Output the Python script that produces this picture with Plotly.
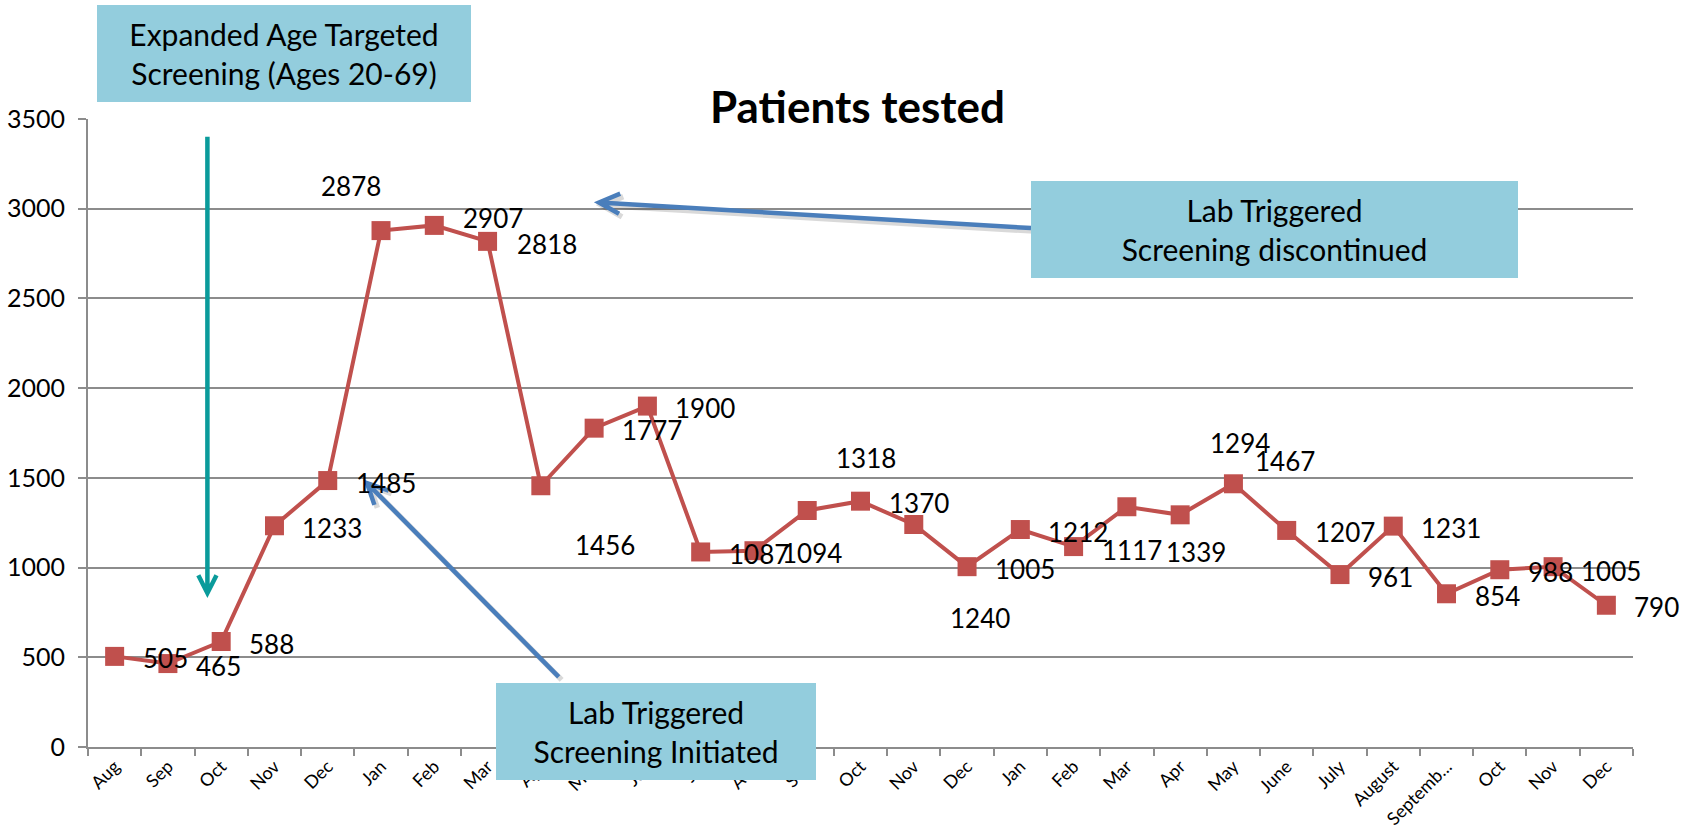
import math
import plotly.graph_objects as go

# ---------------- data ----------------
months = ["Aug", "Sep", "Oct", "Nov", "Dec", "Jan", "Feb", "Mar", "Apr", "May",
          "Jun", "Jul", "Aug", "Sep", "Oct", "Nov", "Dec", "Jan", "Feb", "Mar",
          "Apr", "May", "June", "July", "August", "Septemb...", "Oct", "Nov", "Dec"]
patients = [505, 465, 588, 1233, 1485, 2878, 2907, 2818, 1456, 1777,
            1900, 1087, 1094, 1318, 1370, 1240, 1005, 1212, 1117, 1339,
            1294, 1467, 1207, 961, 1231, 854, 988, 1005, 790]
y_ticks = [0, 500, 1000, 1500, 2000, 2500, 3000, 3500]

# label offsets (pixels: left edge dx, downward dy) as in the original slide
label_dx = [26] * len(patients)
label_dy = [2] * len(patients)
for i, (dx, dy) in {5: (-62, -45), 6: (27, -7), 7: (27, 3), 8: (32, 59),
                    13: (27, -53), 15: (34, 93), 19: (37, 45), 20: (28, -72),
                    21: (20, -23), 18: (26, 3), 27: (26, 4)}.items():
    label_dx[i] = dx
    label_dy[i] = dy

# ---------------- geometry ----------------
W, H = 1700, 829
L, R, T, B = 88, 1633, 119.3, 746.7
PW, PH = R - L, B - T


def px(x):
    return (x - L) / PW


def py(y):
    return (B - y) / PH


FONT = "Lato, Carlito, Calibri, 'Open Sans', sans-serif"
RED = "#C0504D"
GRID = "#8C8C8C"
BOX = "#93CDDD"
BLUE = "#4A7EBB"
TEAL = "#0A9B9B"

x_idx = list(range(len(patients)))

fig = go.Figure()
fig.add_trace(go.Scatter(
    x=x_idx, y=patients, mode="lines+markers",
    line=dict(color=RED, width=4),
    marker=dict(symbol="square", size=19, color=RED),
    hoverinfo="x+y", showlegend=False, cliponaxis=False,
))

annotations = []
for i, v in enumerate(patients):
    annotations.append(dict(
        x=i, y=v, xref="x", yref="y", text=str(v), showarrow=False,
        xanchor="left", yanchor="middle", xshift=label_dx[i], yshift=-label_dy[i],
        font=dict(family=FONT, size=26, color="#000000"),
    ))

# title
annotations.append(dict(
    x=px(857), y=py(106), xref="paper", yref="paper", text="<b>Patients tested</b>",
    showarrow=False, xanchor="center", yanchor="middle",
    font=dict(family=FONT, size=44, color="#000000"),
))


def box(cx, cy, w, h, text):
    return dict(
        x=px(cx), y=py(cy), xref="paper", yref="paper", text=text, showarrow=False,
        xanchor="center", yanchor="middle", width=w, height=h, bgcolor=BOX,
        borderpad=0, borderwidth=0, align="center", valign="middle",
        font=dict(family=FONT, size=30, color="#000000"),
    )


annotations.append(box(283.7, 53.4, 374, 97, "Expanded Age Targeted<br>Screening (Ages 20-69)"))
annotations.append(box(1274.5, 229.5, 487, 97, "Lab Triggered<br>Screening discontinued"))
annotations.append(box(655.8, 731, 320, 97, "Lab Triggered<br>Screening Initiated"))

shapes = []


def arrow(tail, tip, color, width, arm=22, ang=27, shadow=False):
    tx, ty = tail
    hx, hy = tip
    dxv, dyv = tx - hx, ty - hy
    n = math.hypot(dxv, dyv)
    ux, uy = dxv / n, dyv / n
    pts = []
    for s in (1, -1):
        a = math.radians(ang) * s
        rx = ux * math.cos(a) - uy * math.sin(a)
        ry = ux * math.sin(a) + uy * math.cos(a)
        pts.append((hx + arm * rx, hy + arm * ry))

    def path(o):
        return (f"M {px(tx+o)},{py(ty+o)} L {px(hx+o)},{py(hy+o)} "
                f"M {px(pts[0][0]+o)},{py(pts[0][1]+o)} L {px(hx+o)},{py(hy+o)} "
                f"L {px(pts[1][0]+o)},{py(pts[1][1]+o)}")
    out = []
    if shadow:
        out.append(dict(type="path", xref="paper", yref="paper", path=path(3),
                        line=dict(color="rgba(0,0,0,0.15)", width=width + 1), layer="above"))
    out.append(dict(type="path", xref="paper", yref="paper", path=path(0),
                    line=dict(color=color, width=width), layer="above"))
    return out


shapes += arrow((207.4, 137), (207.4, 593), TEAL, 4.5, arm=20, ang=27)
shapes += arrow((1031, 228.3), (599, 202.7), BLUE, 4.5, arm=23, ang=26, shadow=True)
shapes += arrow((558.7, 676.7), (367, 483), BLUE, 4.5, arm=23, ang=26, shadow=True)

fig.update_layout(
    width=W, height=H,
    margin=dict(l=L, r=W - R, t=T, b=H - B, pad=0, autoexpand=False),
    paper_bgcolor="white", plot_bgcolor="white",
    font=dict(family=FONT, color="#000000"),
    showlegend=False,
    annotations=annotations,
    shapes=shapes,
    xaxis=dict(
        range=[-0.5, len(patients) - 0.5],
        tickmode="array", tickvals=x_idx, ticktext=months,
        tickangle=-45, ticks="", showgrid=False, automargin=False,
        showline=True, linecolor=GRID, linewidth=2,
        tickfont=dict(family=FONT, size=18, color="#000000"),
        minor=dict(tickmode="array", tickvals=[i - 0.5 for i in range(len(patients) + 1)],
                   ticks="outside", ticklen=7, tickwidth=2, tickcolor=GRID, showgrid=False),
        zeroline=False, fixedrange=True,
    ),
    yaxis=dict(
        range=[0, 3500], tickmode="array", tickvals=y_ticks,
        ticks="outside", ticklen=8, tickwidth=2, tickcolor=GRID,
        ticklabelstandoff=8, automargin=False,
        showgrid=True, gridcolor=GRID, gridwidth=1.6,
        showline=True, linecolor=GRID, linewidth=2,
        tickfont=dict(family=FONT, size=25, color="#000000"),
        zeroline=False, fixedrange=True,
    ),
)

fig.write_html("out.html", config={"displayModeBar": False},
               post_script="document.body.style.margin='0';document.body.style.overflow='hidden';")
